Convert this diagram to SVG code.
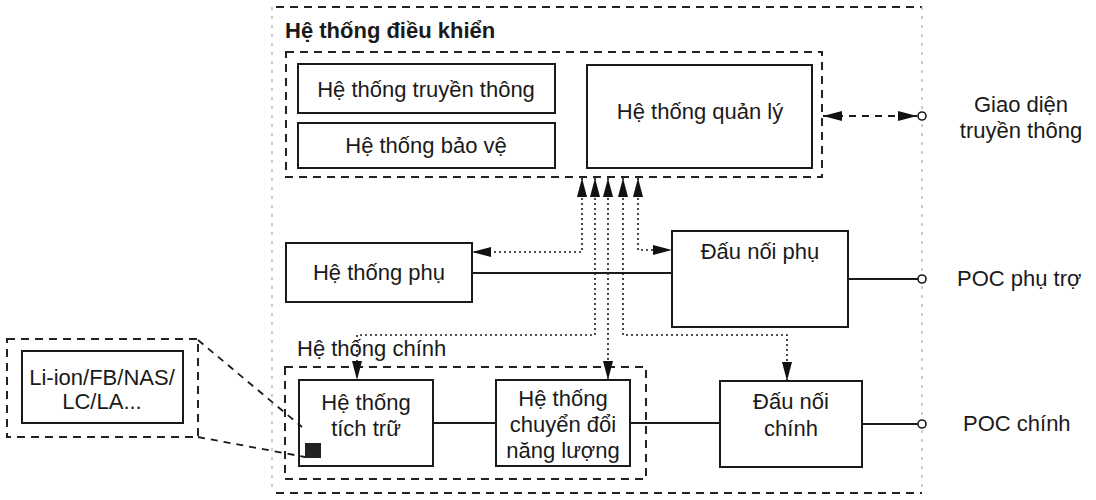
<svg xmlns="http://www.w3.org/2000/svg" width="1096" height="500" viewBox="0 0 1096 500">
<style>
text{font-family:"Liberation Sans",Arial,sans-serif;font-size:22px;fill:#1a1a1a}
.c{text-anchor:middle}
.b{font-weight:bold}
.box{fill:#fff;stroke:#1a1a1a;stroke-width:2}
.dbox{fill:none;stroke:#222;stroke-width:2;stroke-dasharray:8,6}
.faint{fill:none;stroke:#aaa;stroke-width:1.2;stroke-dasharray:3,6}
.solid{fill:none;stroke:#1a1a1a;stroke-width:1.8}
.dot{fill:none;stroke:#1a1a1a;stroke-width:1.6;stroke-dasharray:2,3}
.dash{fill:none;stroke:#1a1a1a;stroke-width:1.8;stroke-dasharray:7,6}
.port{fill:#fff;stroke:#1a1a1a;stroke-width:1.6}
</style>
<defs>
<marker id="ah" viewBox="0 0 19 10" refX="19" refY="5" markerWidth="19" markerHeight="10" markerUnits="userSpaceOnUse" orient="auto-start-reverse">
<path d="M0,0 L19,5 L0,10 z" fill="#111"/>
</marker>
</defs>
<rect width="1096" height="500" fill="#fff"/>

<g id="outer">
<line x1="276" y1="7" x2="922" y2="7" class="dbox"/>
<line x1="276" y1="493" x2="922" y2="493" class="dbox"/>
<line x1="272" y1="7" x2="272" y2="493" class="faint"/>
<line x1="922" y1="7" x2="922" y2="493" class="faint"/>
<text x="285" y="38" class="b">Hệ thống điều khiển</text>
</g>

<g id="control">
<rect x="286" y="52" width="536" height="125" class="dbox"/>
</g>
<g id="truyen-thong">
<rect x="298" y="64" width="257" height="49" class="box"/>
<text x="426" y="97" class="c">Hệ thống truyền thông</text>
</g>
<g id="bao-ve">
<rect x="298" y="123" width="257" height="45" class="box"/>
<text x="426" y="153" class="c">Hệ thống bảo vệ</text>
</g>
<g id="quan-ly">
<rect x="587" y="65" width="225" height="103" class="box"/>
<text x="700" y="119" class="c">Hệ thống quản lý</text>
</g>

<g id="phu">
<rect x="286" y="243" width="186" height="59" class="box"/>
<text x="379" y="280" class="c">Hệ thống phụ</text>
</g>
<g id="dau-noi-phu">
<rect x="672" y="231" width="176" height="96" class="box"/>
<text x="760" y="259" class="c">Đấu nối phụ</text>
</g>

<g id="chinh">
<rect x="285" y="367" width="361" height="112" class="dbox"/>
<text x="297" y="356">Hệ thống chính</text>
</g>
<g id="tich-tru">
<rect x="299" y="380" width="134" height="86" class="box"/>
<text x="366" y="410" class="c">Hệ thống</text>
<text x="366" y="436" class="c">tích trữ</text>
<rect x="305" y="443" width="16" height="15" fill="#222"/>
</g>
<g id="chuyen-doi">
<rect x="496" y="380" width="134" height="86" class="box"/>
<text x="563" y="406" class="c">Hệ thống</text>
<text x="563" y="432" class="c">chuyển đổi</text>
<text x="563" y="458" class="c">năng lượng</text>
</g>
<g id="dau-noi-chinh">
<rect x="720" y="381" width="142" height="86" class="box"/>
<text x="791" y="409" class="c">Đấu nối</text>
<text x="791" y="436" class="c">chính</text>
</g>

<g id="battery">
<rect x="7" y="339" width="191" height="98" class="dbox"/>
<rect x="22" y="351" width="161" height="72" class="box"/>
<text x="102" y="385" class="c">Li-ion/FB/NAS/</text>
<text x="102" y="409" class="c">LC/LA...</text>
</g>

<g id="labels">
<text x="1021" y="112" class="c">Giao diện</text>
<text x="1021" y="138" class="c">truyền thông</text>
<text x="957" y="286">POC phụ trợ</text>
<text x="963" y="431">POC chính</text>
</g>

<g id="connectors">
<line x1="472" y1="273" x2="672" y2="273" class="solid"/>
<line x1="848" y1="279" x2="918" y2="279" class="solid"/>
<line x1="433" y1="423" x2="496" y2="423" class="solid"/>
<line x1="630" y1="423" x2="720" y2="423" class="solid"/>
<line x1="862" y1="424" x2="918" y2="424" class="solid"/>
<path d="M582,178 L582,252 L472,252" class="dot" marker-start="url(#ah)" marker-end="url(#ah)"/>
<path d="M595,178 L595,335 L357,335 L357,380" class="dot" marker-start="url(#ah)" marker-end="url(#ah)"/>
<path d="M608,178 L608,380" class="dot" marker-start="url(#ah)" marker-end="url(#ah)"/>
<path d="M623,178 L623,335 L787,335 L787,381" class="dot" marker-start="url(#ah)" marker-end="url(#ah)"/>
<path d="M638,178 L638,250 L672,250" class="dot" marker-start="url(#ah)" marker-end="url(#ah)"/>
<path d="M823,116 L917,116" class="dash" marker-start="url(#ah)" marker-end="url(#ah)"/>
<path d="M198,340 L302,427" class="dash"/>
<path d="M198,437 L305,457" class="dash"/>
<circle cx="922" cy="116" r="4" class="port"/>
<circle cx="922" cy="279" r="4" class="port"/>
<circle cx="922" cy="424" r="4" class="port"/>
</g>
</svg>
